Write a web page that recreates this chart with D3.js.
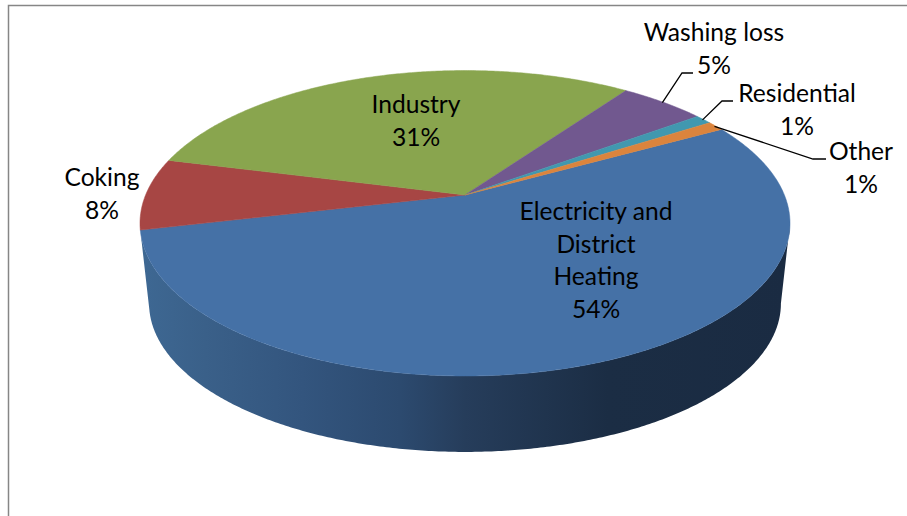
<!DOCTYPE html>
<html>
<head>
<meta charset="utf-8">
<style>
  html, body { margin: 0; padding: 0; background: #fff; }
  text { font-family: Lato, "Open Sans", sans-serif; font-size: 24.6px; fill: #000; text-anchor: middle; }
</style>
<script src="https://cdn.jsdelivr.net/npm/d3@7"></script>
</head>
<body>
<svg id="chart" width="907" height="516"></svg>
<script>
// Values, clockwise from the first slice
var categories = ['Electricity and District Heating', 'Coking', 'Industry', 'Washing loss', 'Residential', 'Other'];
var shares = [54.4, 7.6, 30.9, 5.1, 1.0, 1.0];
var colors = ['#4571a6', '#a74644', '#89a54e', '#71588f', '#4198af', '#db843d'];

// Label layout, same order as categories
var labelLines = [['Electricity and', 'District', 'Heating'], ['Coking'], ['Industry'], ['Washing loss'], ['Residential'], ['Other']];
var labelX = [596, 102, 416, 714, 797, 861];
var labelY = [220, 186, 113, 41, 102, 160];
var lineGap = 32.5;

// Leader elbows for the small slices (index into categories)
var leaderSlices = [3, 4, 5];
var leaderElbows = [[[682, 73], [693, 73]], [[722, 101], [733, 101]], [[813, 159], [826, 159]]];

// Tilted disc: front of the pie is closer, so it looks bigger
var cx = 465, cy = 195;
var scaleU = 319.4, scaleV = 147.5, persp = 0.185;
var depth = 81, bottomScale = 0.972;

var project = function (angle, radius, isBottom) {
  var u = Math.sin(angle) * radius;
  var v = -Math.cos(angle) * radius;
  var w = 1 - persp * v;
  var s = isBottom ? bottomScale : 1;
  return [cx + s * scaleU * u / w, cy + (isBottom ? depth : 0) + s * scaleV * v / w];
};

var rad = function (deg) { return deg * Math.PI / 180; };
var line = d3.line();

// Sample points along the rim from a0 to a1
var rim = function (a0, a1, isBottom) {
  var n = Math.max(2, Math.ceil((a1 - a0) / rad(0.5)));
  return d3.range(n + 1).map(function (i) {
    return project(a0 + (a1 - a0) * i / n, 1, isBottom);
  });
};

var arcs = d3.pie().sort(null).startAngle(rad(61)).endAngle(rad(421))(shares);

var svg = d3.select('#chart');

// Frame of the original chart area
svg.append('path')
  .attr('d', 'M8.5,516V5.5H907')
  .attr('fill', 'none')
  .attr('stroke', '#868686')
  .attr('stroke-width', 1.5);

// Side wall gradient
var grad = svg.append('defs').append('linearGradient')
  .attr('id', 'wall')
  .attr('gradientUnits', 'userSpaceOnUse')
  .attr('x1', 140).attr('x2', 790).attr('y1', 0).attr('y2', 0);
var wallStops = [[0, '#3e6893'], [0.1, '#3a6089'], [0.25, '#33557e'], [0.4, '#2c4a6f'], [0.5, '#263d5b'], [0.72, '#1b2d44'], [1, '#1a2b42']];
grad.selectAll('stop').data(wallStops).enter().append('stop')
  .attr('offset', function (d) { return d[0]; })
  .attr('stop-color', function (d) { return d[1]; });

// Only the first slice reaches the front of the disc
var frontStart = Math.acos(-persp);
var frontEnd = Math.min(arcs[0].endAngle, 2 * Math.PI - frontStart);
var wallPts = rim(frontStart, frontEnd, false).concat(rim(frontStart, frontEnd, true).reverse());
svg.append('path')
  .attr('d', line(wallPts) + 'Z')
  .attr('fill', 'url(#wall)');

// Top face slices
svg.selectAll('path.slice').data(arcs).enter().append('path')
  .attr('class', 'slice')
  .attr('d', function (d) {
    return line([[cx, cy]].concat(rim(d.startAngle, d.endAngle, false))) + 'Z';
  })
  .attr('fill', function (d, i) { return colors[i]; })
  .attr('stroke', function (d, i) { return colors[i]; })
  .attr('stroke-width', 0.5);

// Leader lines
leaderSlices.forEach(function (idx, i) {
  var a = arcs[idx];
  var start = project((a.startAngle + a.endAngle) / 2, 0.995, false);
  svg.append('path')
    .attr('d', line([start].concat(leaderElbows[i])))
    .attr('fill', 'none')
    .attr('stroke', '#000')
    .attr('stroke-width', 1.3);
});

// Labels: name lines, then the rounded percent
var label = svg.selectAll('g.label').data(arcs).enter().append('g').attr('class', 'label');
label.each(function (d, i) {
  var lines = labelLines[i].concat([d3.format('.0f')(shares[i]) + '%']);
  d3.select(this).selectAll('text').data(lines).enter().append('text')
    .attr('x', labelX[i])
    .attr('y', function (t, j) { return labelY[i] + j * lineGap; })
    .text(function (t) { return t; });
});
</script>
</body>
</html>
